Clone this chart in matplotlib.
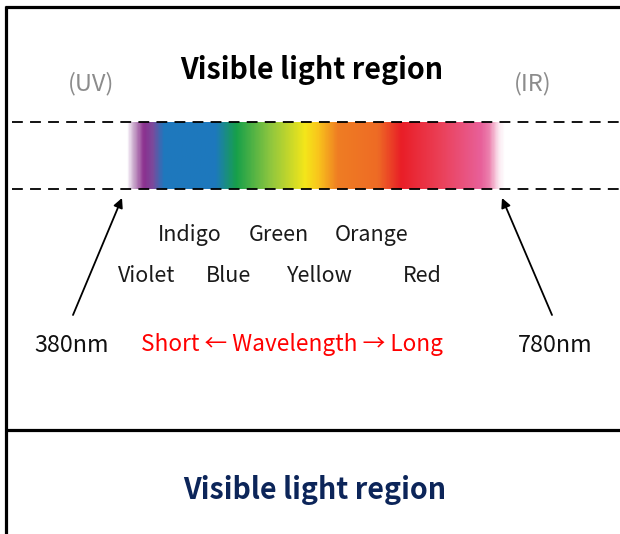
import numpy as np
import matplotlib
matplotlib.use('Agg')
import matplotlib.pyplot as plt
from matplotlib.colors import LinearSegmentedColormap, to_rgb

plt.rcParams['font.family'] = ['Noto Sans CJK JP', 'DejaVu Sans']

# spectrum colour stops, position in px along the bar and colour
stop_pos = [126, 129, 133, 143, 152, 163, 215, 236, 270, 305, 318, 338, 378, 402, 440, 482, 490, 500, 506]
stop_col = ['#ffffff', '#e6d6e8', '#c7a5c9', '#8b2f8e', '#7b4a9c', '#1f78bd', '#1d79bd', '#17a04a',
            '#8dc63f', '#f4e61a', '#f9c61c', '#ef7d23', '#ee6b25', '#e91e27', '#eb3f56', '#e8609a',
            '#ec7fad', '#fbe8f0', '#ffffff']

top_row = ['Indigo', 'Green', 'Orange']
bottom_row = ['Violet', 'Blue', 'Yellow', 'Red']
top_x = [190, 279, 372]
bottom_x = [147, 228, 320, 422]
ends = ['380nm', '780nm']
title = 'Visible light region'

fig = plt.figure(figsize=(6.2, 5.34), dpi=100)
ax = fig.add_axes([0, 0, 1, 1])
ax.set_xlim(0, 620)
ax.set_ylim(534, 0)
ax.axis('off')

# frame lines
ax.plot([5, 620], [7, 7], color='black', lw=2.3, solid_capstyle='butt')
ax.plot([6, 6], [6, 534], color='black', lw=2.3, solid_capstyle='butt')
ax.plot([6, 620], [430, 430], color='black', lw=2.3, solid_capstyle='butt')

# gradient bar
x0, x1 = stop_pos[0], stop_pos[-1]
frac = [(p - x0) / (x1 - x0) for p in stop_pos]
cmap = LinearSegmentedColormap.from_list('spec', list(zip(frac, [to_rgb(c) for c in stop_col])))
grad = np.linspace(0, 1, 600).reshape(1, -1)
ax.imshow(grad, cmap=cmap, aspect='auto', extent=[x0, x1, 189, 122], interpolation='bilinear', zorder=1)

for yy in [122, 189]:
    ax.plot([12, 620], [yy, yy], color='black', lw=1.3, linestyle=(0, (6, 4)), zorder=2)

ax.text(312, 70, title, ha='center', va='center', fontsize=20.6, fontweight='bold', color='black')
ax.text(91, 84, '(UV)', ha='center', va='center', fontsize=17, color='#8c8c8c')
ax.text(533, 84, '(IR)', ha='center', va='center', fontsize=17, color='#8c8c8c')

for name, xx in zip(top_row, top_x):
    ax.text(xx, 235, name, ha='center', va='center', fontsize=15.5, color='#1a1a1a')
for name, xx in zip(bottom_row, bottom_x):
    ax.text(xx, 276, name, ha='center', va='center', fontsize=15.5, color='#1a1a1a')

ax.text(72, 346, ends[0], ha='center', va='center', fontsize=16.8, color='#111111')
ax.text(555, 346, ends[1], ha='center', va='center', fontsize=16.8, color='#111111')
ax.text(292, 344, 'Short \u2190 Wavelength \u2192 Long', ha='center', va='center', fontsize=16.3, color='#ff0000')

arrow = dict(arrowstyle='-|>', color='black', lw=1.3, mutation_scale=14, shrinkA=0, shrinkB=0)
ax.annotate('', xy=(122, 198), xytext=(73, 315), arrowprops=arrow)
ax.annotate('', xy=(502, 198), xytext=(552, 315), arrowprops=arrow)

ax.text(315, 490, title, ha='center', va='center', fontsize=20.6, fontweight='bold', color='#0c2559')

fig.savefig('out.png', dpi=100)
